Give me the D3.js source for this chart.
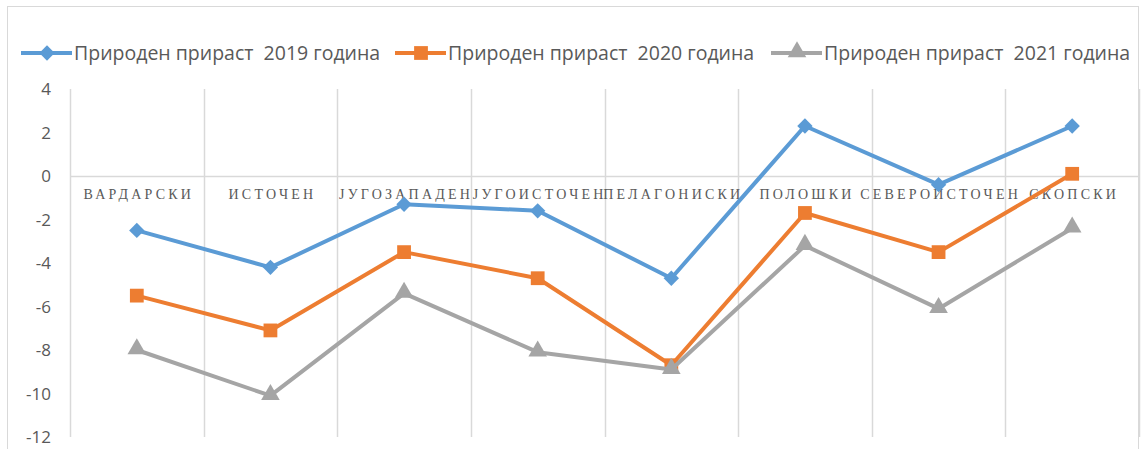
<!DOCTYPE html>
<html>
<head>
<meta charset="utf-8">
<script src="https://cdn.jsdelivr.net/npm/d3@7"></script>
<style>
  body { margin: 0; background: #fff; }
  svg { display: block; }
  text { white-space: pre; }
</style>
</head>
<body>
<svg id="chart" width="1142" height="449"></svg>
<script>
// regions and natural increase per 1000
const regions = ["ВАРДАРСКИ", "ИСТОЧЕН", "ЈУГОЗАПАДЕН", "ЈУГОИСТОЧЕН", "ПЕЛАГОНИСКИ", "ПОЛОШКИ", "СЕВЕРОИСТОЧЕН", "СКОПСКИ"];
const values2019 = [-2.5, -4.2, -1.3, -1.6, -4.7, 2.3, -0.4, 2.3];
const values2020 = [-5.5, -7.1, -3.5, -4.7, -8.7, -1.7, -3.5, 0.1];
const values2021 = [-8.0, -10.1, -5.4, -8.1, -8.9, -3.2, -6.1, -2.4];
const seriesNames = ["Природен прираст  2019 година", "Природен прираст  2020 година", "Природен прираст  2021 година"];
const yTicks = [4, 2, 0, -2, -4, -6, -8, -10, -12];

const colors = ["#5B9BD5", "#ED7D31", "#A5A5A5"];
const symbols = [d3.symbolDiamond2, d3.symbolSquare, d3.symbolTriangle];
const symSize = [150, 190, 150];

const svg = d3.select("#chart");

// outer chart frame
svg.append("rect")
    .attr("x", 7.5).attr("y", 6.5)
    .attr("width", 1131).attr("height", 460)
    .attr("fill", "none")
    .attr("stroke", "#d9d9d9");

const x = d3.scaleBand()
    .domain(regions)
    .range([70, 1139]);

const y = d3.scaleLinear()
    .domain([-12, 4])
    .range([437, 89]);

// vertical gridlines between categories
const gridX = regions.map(r => x(r)).concat([x.range()[1]]);
svg.append("g")
    .selectAll("line")
    .data(gridX)
    .enter()
    .append("line")
    .attr("x1", d => Math.round(d) + 0.5)
    .attr("x2", d => Math.round(d) + 0.5)
    .attr("y1", y(4))
    .attr("y2", y(-12))
    .attr("stroke", "#d9d9d9")
    .attr("stroke-width", 1.5);

// category axis at zero
svg.append("line")
    .attr("x1", x.range()[0]).attr("x2", x.range()[1])
    .attr("y1", Math.round(y(0)) + 0.5).attr("y2", Math.round(y(0)) + 0.5)
    .attr("stroke", "#d9d9d9")
    .attr("stroke-width", 1.5);

// y tick labels
svg.append("g")
    .selectAll("text")
    .data(yTicks)
    .enter()
    .append("text")
    .attr("x", 51)
    .attr("y", d => y(d) + 6)
    .attr("text-anchor", "end")
    .attr("font-family", "'Open Sans', sans-serif")
    .attr("font-size", 17)
    .attr("fill", "#595959")
    .text(d => d);

// category labels just under the zero line
svg.append("g")
    .selectAll("text")
    .data(regions)
    .enter()
    .append("text")
    .attr("x", d => x(d) + x.bandwidth() / 2 + 2)
    .attr("y", y(0) + 23)
    .attr("text-anchor", "middle")
    .attr("font-family", "'Liberation Serif', serif")
    .attr("font-size", 14)
    .attr("letter-spacing", 3.2)
    .attr("fill", "#595959")
    .text(d => d);

const allSeries = [values2019, values2020, values2021];
const cx = (d, i) => x(regions[i]) + x.bandwidth() / 2;

const line = d3.line()
    .x(cx)
    .y(d => y(d));

allSeries.forEach((vals, s) => {
    svg.append("path")
        .datum(vals)
        .attr("d", line)
        .attr("fill", "none")
        .attr("stroke", colors[s])
        .attr("stroke-width", 4)
        .attr("stroke-linejoin", "round");

    svg.append("g")
        .selectAll("path")
        .data(vals)
        .enter()
        .append("path")
        .attr("transform", (d, i) => `translate(${cx(d, i)},${y(d) + (s == 2 ? -1 : 0)})`)
        .attr("d", d3.symbol().type(symbols[s]).size(symSize[s]))
        .attr("fill", colors[s]);
});

// legend
const legendX = [21, 395, 771];
const legend = svg.append("g");
seriesNames.forEach((name, s) => {
    const lx = legendX[s];
    legend.append("line")
        .attr("x1", lx).attr("x2", lx + 51)
        .attr("y1", 53).attr("y2", 53)
        .attr("stroke", colors[s])
        .attr("stroke-width", 4);
    legend.append("path")
        .attr("transform", `translate(${lx + 26},${s == 2 ? 52 : 53})`)
        .attr("d", d3.symbol().type(symbols[s]).size(symSize[s]))
        .attr("fill", colors[s]);
    legend.append("text")
        .attr("x", lx + 53)
        .attr("y", 60)
        .attr("font-family", "'Open Sans', sans-serif")
        .attr("font-size", 19.5)
        .attr("fill", "#595959")
        .text(name);
});
</script>
</body>
</html>
